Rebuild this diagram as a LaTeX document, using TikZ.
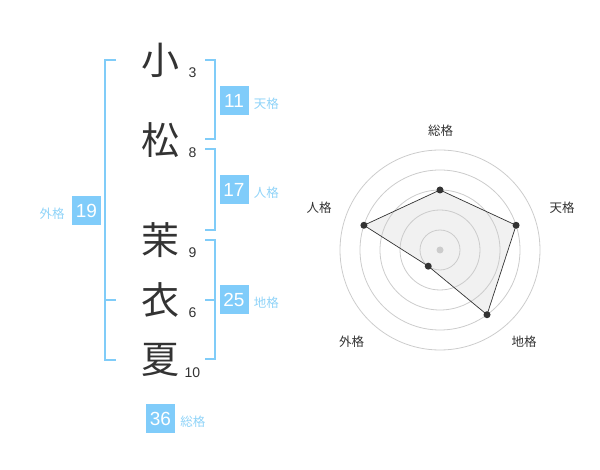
\documentclass[tikz,border=0pt]{standalone}
\usepackage{fontspec}
\setmainfont{Liberation Sans}
\newfontfamily\jp{Noto Sans CJK JP}
\usetikzlibrary{positioning}
\definecolor{boxblue}{HTML}{80CCFA}
\definecolor{lineblue}{HTML}{80CCF8}
\definecolor{labelblue}{HTML}{8FD3F8}
\definecolor{ink}{HTML}{333333}
\definecolor{ring}{HTML}{CCCCCC}
\definecolor{area}{HTML}{F1F1F1}

\begin{document}
\begin{tikzpicture}[x=1pt,y=-1pt,
    kanji/.style={font=\jp\fontsize{38}{38}\selectfont,text=ink,inner sep=0pt},
    stroke num/.style={font=\fontsize{14}{14}\selectfont,text=ink,inner sep=0pt},
    score box/.style={fill=boxblue,text=white,minimum size=29pt,inner sep=0pt,
                      font=\fontsize{19}{19}\selectfont},
    kaku/.style={text=labelblue,font=\jp\fontsize{12.5}{12.5}\selectfont,inner sep=0pt},
    bracket/.style={draw=lineblue,line width=2pt},
    axis label/.style={text=ink,font=\jp\fontsize{12.5}{12.5}\selectfont,inner sep=0pt},
    point/.style={circle,fill=ink,inner sep=0pt,minimum size=7pt}]

    \useasboundingbox (0,0) rectangle (600,470);

    % Name characters and stroke counts
    \node[kanji] (k1) at (160,60)  {小};
    \node[kanji] (k2) at (160,140) {松};
    \node[kanji] (k3) at (160,240) {茉};
    \node[kanji] (k4) at (160,300) {衣};
    \node[kanji] (k5) at (160,360) {夏};
    \node[stroke num] (s1) at (192.5,72.5)  {3};
    \node[stroke num] (s2) at (192.5,152.5) {8};
    \node[stroke num] (s3) at (192.5,252.5) {9};
    \node[stroke num] (s4) at (192.5,312.5) {6};
    \node[stroke num] (s5) at (192.5,372.5) {10};

    % Brackets
    \draw[bracket] (116,60) -- (105,60) -- (105,360) -- (116,360);
    \draw[bracket] (105,300) -- (116,300);
    \draw[bracket] (205,60) -- (214.5,60) -- (214.5,139.5) -- (205,139.5);
    \draw[bracket] (205,149.5) -- (214.5,149.5) -- (214.5,230) -- (205,230);
    \draw[bracket] (205,240) -- (214.5,240) -- (214.5,359.5) -- (205,359.5);
    \draw[bracket] (205,300) -- (214.5,300);

    % Scores
    \node[score box] (ten) at (234,100.5) {11};
    \node[score box] (jin) at (234,190)   {17};
    \node[score box] (chi) at (234,300)   {25};
    \node[score box] (gai) at (86.5,210.5) {19};
    \node[score box] (so)  at (160.5,418.5) {36};
    \node[kaku,right=5pt of ten,yshift=-3pt] (ten-l) {天格};
    \node[kaku,right=5pt of jin,yshift=-3pt] (jin-l) {人格};
    \node[kaku,right=5pt of chi,yshift=-3pt] (chi-l) {地格};
    \node[kaku,left=7pt of gai,yshift=-3pt]  (gai-l) {外格};
    \node[kaku,right=5pt of so,yshift=-3pt]  (so-l)  {総格};

    % Radar chart
    \coordinate (c) at (440,250);
    \path (c) ++(90:60pt)   coordinate (v-so);
    \path (c) ++(18:80pt)   coordinate (v-ten);
    \path (c) ++(-54:80pt)  coordinate (v-chi);
    \path (c) ++(-126:20pt) coordinate (v-gai);
    \path (c) ++(162:80pt)  coordinate (v-jin);
    \fill[area] (v-so) -- (v-ten) -- (v-chi) -- (v-gai) -- (v-jin) -- cycle;
    \foreach \r in {20,40,60,80,100}
        \draw[ring,line width=0.8pt] (c) circle[radius=\r pt];
    \fill[ring] (c) circle[radius=3.5pt];
    \draw[ink,line width=0.7pt] (v-so) -- (v-ten) -- (v-chi) -- (v-gai) -- (v-jin) -- cycle;
    \foreach \v in {so,ten,chi,gai,jin}
        \node[point] (p-\v) at (v-\v) {};

    \node[axis label] (a-so)  at (440.5,130.5) {総格};
    \node[axis label] (a-ten) at (562,208)     {天格};
    \node[axis label] (a-jin) at (319,208)     {人格};
    \node[axis label] (a-gai) at (351.5,341.5) {外格};
    \node[axis label] (a-chi) at (524,341.5)   {地格};

\end{tikzpicture}
\end{document}
